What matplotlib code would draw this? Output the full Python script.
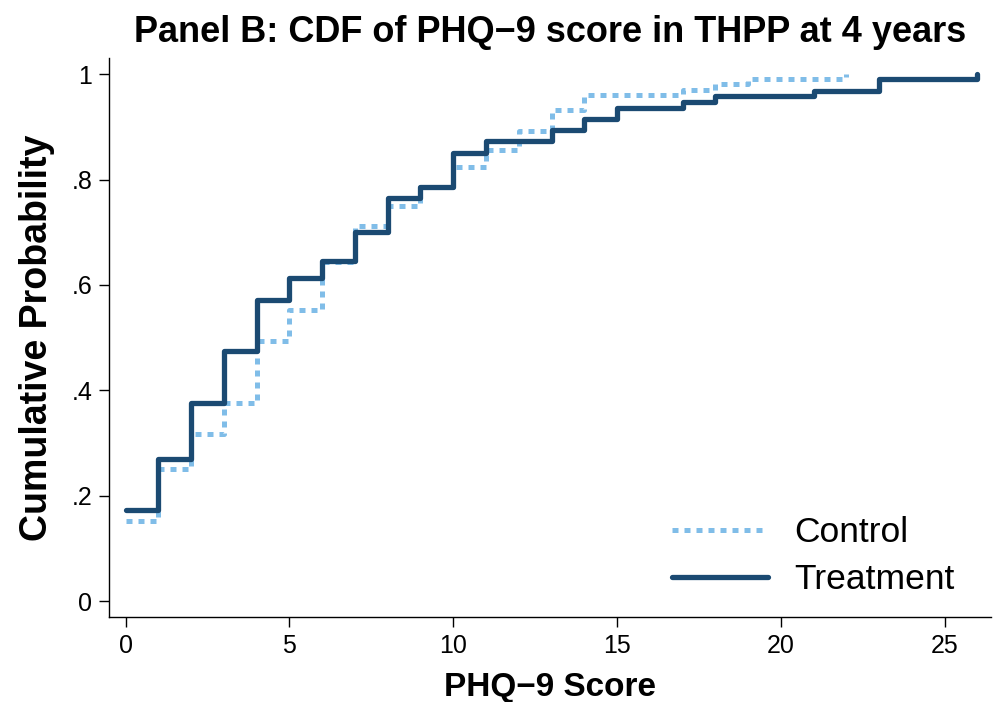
import numpy as np
import matplotlib
matplotlib.use('Agg')
import matplotlib.pyplot as plt

x_treat = [0, 1, 2, 3, 4, 5, 6, 7, 8, 9, 10, 11, 13, 14, 15, 17, 18, 21, 23, 26]
y_treat = [0.174, 0.269, 0.377, 0.475, 0.572, 0.614, 0.646, 0.700, 0.765, 0.786,
           0.850, 0.873, 0.894, 0.915, 0.936, 0.947, 0.958, 0.968, 0.990, 1.0]

x_ctrl = [0, 1, 2, 3, 4, 5, 6, 7, 8, 9, 10, 11, 12, 13, 14, 17, 18, 19, 22]
y_ctrl = [0.152, 0.250, 0.318, 0.377, 0.494, 0.553, 0.644, 0.712, 0.750, 0.786,
          0.824, 0.856, 0.892, 0.932, 0.960, 0.970, 0.981, 0.991, 1.0]

xticks = [0, 5, 10, 15, 20, 25]
yticks = [0, 0.2, 0.4, 0.6, 0.8, 1.0]
ytick_labels = ['0', '.2', '.4', '.6', '.8', '1']

plt.rcParams['font.family'] = ['Liberation Sans', 'DejaVu Sans']

fig = plt.figure(figsize=(9.95, 7.02), dpi=100)
ax = fig.add_axes([0.1095, 0.121, 0.886, 0.796])

ax.step(x_ctrl, y_ctrl, where='post', color='#80bde8', linewidth=3.6,
        linestyle=(0, (1.2, 1.2)), label='Control')
ax.step(x_treat, y_treat, where='post', color='#1b4a72', linewidth=3.8,
        solid_joinstyle='round', solid_capstyle='round', label='Treatment')

ax.set_xlim(-0.51, 26.4)
ax.set_ylim(-0.03, 1.03)
ax.set_xticks(xticks)
ax.set_yticks(yticks)
ax.set_yticklabels(ytick_labels)

for s in ['top', 'right']:
    ax.spines[s].set_visible(False)
for s in ['left', 'bottom']:
    ax.spines[s].set_linewidth(1.0)
ax.tick_params(axis='both', direction='out', length=7, width=1, labelsize=18, pad=5)

ax.set_title('Panel B: CDF of PHQ\u22129 score in THPP at 4 years',
             fontsize=26, fontweight='bold', pad=12)
ax.set_xlabel('PHQ\u22129 Score', fontsize=24, fontweight='bold', labelpad=10)
ax.set_ylabel('Cumulative Probability', fontsize=27, fontweight='bold', labelpad=12)

fig.legend(loc='center left', bbox_to_anchor=(672 / 995, 1 - 556 / 702),
           frameon=False, fontsize=25.5, handlelength=2.7, handletextpad=0.75,
           labelspacing=0.4, borderpad=0, borderaxespad=0)

plt.savefig('out.png', dpi=100)
